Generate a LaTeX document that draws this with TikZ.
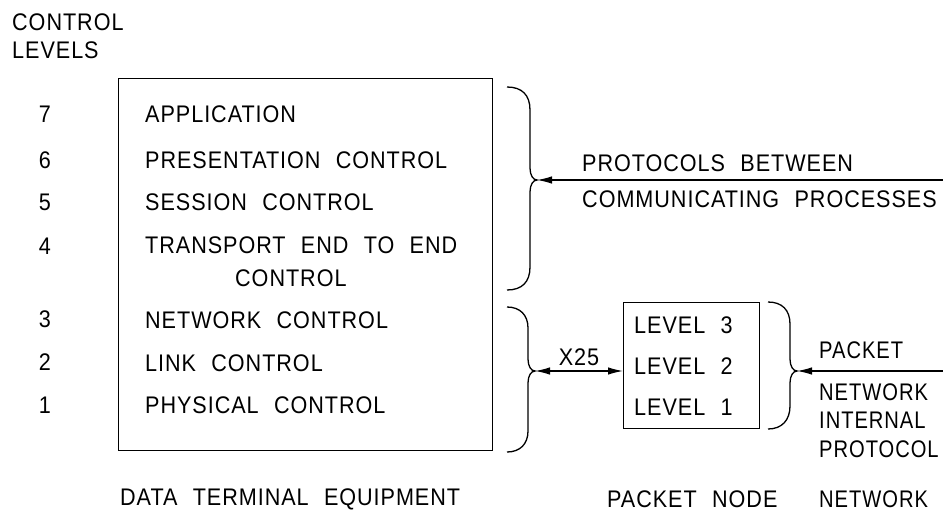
\documentclass[tikz,border=0pt]{standalone}
\usepackage{fontspec}
\setmainfont[FakeStretch=0.9,WordSpace=2.2,LetterSpace=4]{Liberation Sans}
\newfontfamily\narrowfont[FakeStretch=0.84,WordSpace=2.2,LetterSpace=4]{Liberation Sans}
\usetikzlibrary{arrows.meta}
\begin{document}
\begin{tikzpicture}[x=1pt,y=-1pt,
  every node/.style={inner sep=0pt, font=\fontsize{24}{28}\selectfont},
  lbl/.style={anchor=west},
  rlbl/.style={anchor=west, font=\fontsize{24}{28}\narrowfont},
  num/.style={anchor=center},
  ln/.style={line width=1.3pt},
  tip/.style={-{Latex[length=15pt,width=7.5pt]}},
  bothtip/.style={{Latex[length=15pt,width=7.5pt]}-{Latex[length=15pt,width=7.5pt]}}]
\useasboundingbox (0,0) rectangle (943,520);
% heading
\node[lbl] (h1) at (12,22) {CONTROL};
\node[lbl] (h2) at (12,50) {LEVELS};
% level numbers
\node[num] (n7) at (45,114) {7};
\node[num] (n6) at (45,160) {6};
\node[num] (n5) at (45,202) {5};
\node[num] (n4) at (45,246) {4};
\node[num] (n3) at (45,319) {3};
\node[num] (n2) at (45,362) {2};
\node[num] (n1) at (45,405) {1};
% main box
\node[draw, ln, minimum width=374pt, minimum height=372pt, anchor=north west] (dte) at (118,78) {};
\node[lbl] (t7) at (145,114) {APPLICATION};
\node[lbl] (t6) at (145,160) {PRESENTATION CONTROL};
\node[lbl] (t5) at (145,202) {SESSION CONTROL};
\node[lbl] (t4) at (145,245) {TRANSPORT END TO END};
\node[lbl] (t4b) at (235,278) {CONTROL};
\node[lbl] (t3) at (145,320) {NETWORK CONTROL};
\node[lbl] (t2) at (145,363) {LINK CONTROL};
\node[lbl] (t1) at (145,405) {PHYSICAL CONTROL};
% brace 1
\coordinate (b1) at (537,180);
\draw[ln] (507,87) .. controls (522,87) and (530,95) .. (530,110) -- (530,168)
  .. controls (530,175) and (533,180) .. (b1)
  .. controls (533,180) and (530,185) .. (530,192) -- (530,267)
  .. controls (530,282) and (522,290) .. (507,290);
% brace 2
\coordinate (b2) at (535,371);
\draw[ln] (507,307) .. controls (520,307) and (528,315) .. (528,328) -- (528,359)
  .. controls (528,366) and (531,371) .. (b2)
  .. controls (531,371) and (528,376) .. (528,383) -- (528,431)
  .. controls (528,444) and (520,452) .. (507,452);
% top arrow
\coordinate (r1) at (943,180);
\draw[ln, tip] (r1) -- (b1);
\node[lbl] (p1) at (582,163) {PROTOCOLS BETWEEN};
\node[lbl] (p2) at (582,199) {COMMUNICATING PROCESSES};
% packet node box
\node[draw, ln, minimum width=136pt, minimum height=126pt, anchor=north west] (pn) at (623,302) {};
\node[lbl] (l3) at (634,325) {LEVEL 3};
\node[lbl] (l2) at (634,366) {LEVEL 2};
\node[lbl] (l1) at (634,407) {LEVEL 1};
% X25 arrow
\draw[ln, bothtip] (b2) -- (pn.west |- b2);
\node (x25) at (579,357) {X25};
% brace 3
\coordinate (b3) at (797,371);
\draw[ln] (768,302) .. controls (782,302) and (790,310) .. (790,324) -- (790,359)
  .. controls (790,366) and (793,371) .. (b3)
  .. controls (793,371) and (790,376) .. (790,383) -- (790,406)
  .. controls (790,420) and (782,429) .. (768,429);
\coordinate (r3) at (943,371);
\draw[ln, tip] (r3) -- (b3);
\node[rlbl] (k1) at (819,350) {PACKET};
\node[rlbl] (k2) at (819,392) {NETWORK};
\node[rlbl] (k3) at (819,420) {INTERNAL};
\node[rlbl] (k4) at (819,449) {PROTOCOL};
% bottom labels
\node[lbl] (f1) at (120,499) {DATA TERMINAL EQUIPMENT};
\node[lbl] (f2) at (607,499) {PACKET NODE};
\node[rlbl] (f3) at (819,499) {NETWORK};
\end{tikzpicture}
\end{document}
